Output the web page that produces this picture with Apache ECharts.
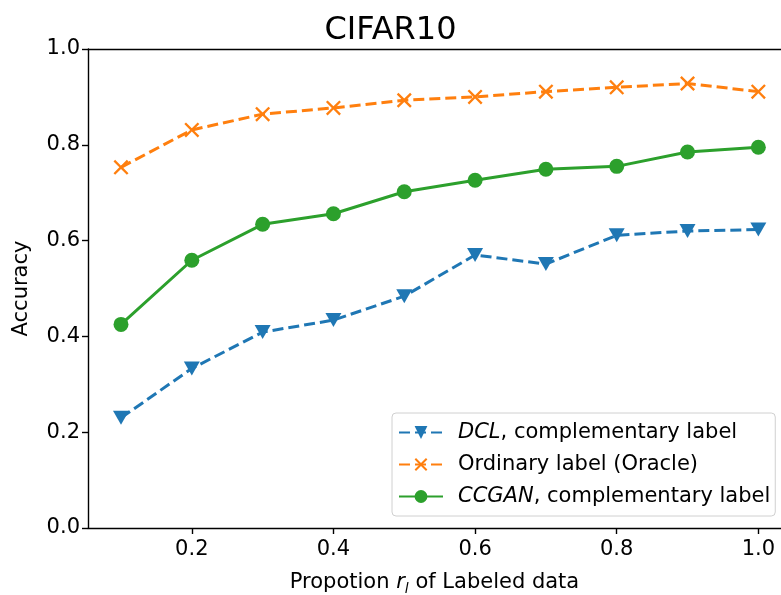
<!DOCTYPE html>
<html>
<head>
<meta charset="utf-8">
<script src="https://cdn.jsdelivr.net/npm/echarts@6/dist/echarts.min.js"></script>
<style>html,body{margin:0;padding:0;background:#fff}#c{width:781px;height:595px}</style>
</head>
<body>
<div id="c"></div>
<script>
const proportions = [0.1, 0.2, 0.3, 0.4, 0.5, 0.6, 0.7, 0.8, 0.9, 1.0];
const dclValues = [0.230, 0.333, 0.409, 0.434, 0.484, 0.570, 0.551, 0.611, 0.620, 0.623];
const oracleValues = [0.753, 0.831, 0.864, 0.877, 0.893, 0.900, 0.911, 0.920, 0.928, 0.911];
const ccganValues = [0.425, 0.559, 0.634, 0.656, 0.702, 0.726, 0.749, 0.755, 0.785, 0.795];
const xTickLabels = [0.2, 0.4, 0.6, 0.8, 1.0];
const seriesNames = ['DCL', 'Oracle', 'CCGAN'];

const font = 'DejaVu Sans';
const pairs = vals => proportions.map((x, i) => [x, vals[i]]);
const xMark = 'path://M0,1.1L1.1,0L5,3.9L8.9,0L10,1.1L6.1,5L10,8.9L8.9,10L5,6.1L1.1,10L0,8.9L3.9,5Z';
const xMin = 0.0534, xMax = 1.032;

const chart = echarts.init(document.getElementById('c'), null, {renderer: 'canvas'});
chart.setOption({
  animation: false,
  backgroundColor: '#ffffff',
  title: {
    text: 'CIFAR10', left: 'center', top: 10,
    textStyle: {fontFamily: font, fontSize: 32, fontWeight: 'normal', color: '#000'}
  },
  grid: {left: 88, top: 49, bottom: 67, right: 0, outerBoundsMode: 'none', containLabel: false},
  legend: {
    orient: 'vertical', left: 392, top: 413,
    padding: [9, 5, 9, 6], itemGap: 11, itemWidth: 44, itemHeight: 16,
    backgroundColor: '#fff', borderColor: '#d0d0d0', borderWidth: 1, borderRadius: 4,
    data: seriesNames,
    formatter: n => n === 'DCL' ? '{i|DCL}{n|, complementary label}'
      : n === 'Oracle' ? '{n|Ordinary label (Oracle)}' : '{i|CCGAN}{n|, complementary label}',
    textStyle: {
      fontFamily: font, fontSize: 21, color: '#000', padding: [0, 0, 0, 10],
      rich: {
        i: {fontFamily: font, fontSize: 21, fontStyle: 'italic', color: '#000'},
        n: {fontFamily: font, fontSize: 21, color: '#000'}
      }
    }
  },
  xAxis: [{
    type: 'value', min: xMin, max: xMax,
    name: 'Propotion {i|r}{s|l} of Labeled data', nameLocation: 'middle', nameGap: 42,
    nameTextStyle: {
      fontFamily: font, fontSize: 21, color: '#000',
      rich: {
        i: {fontFamily: font, fontSize: 21, fontStyle: 'italic', color: '#000'},
        s: {fontFamily: font, fontSize: 14, fontStyle: 'italic', color: '#000', verticalAlign: 'bottom', padding: [12, 0, 0, 0]}
      }
    },
    axisLine: {show: true, lineStyle: {color: '#000', width: 1.4}},
    axisTick: {show: true, inside: false, length: 6, customValues: xTickLabels, lineStyle: {color: '#000', width: 1.4}},
    axisLabel: {customValues: xTickLabels, margin: 11, fontFamily: font, fontSize: 21, color: '#000',
      formatter: v => v.toFixed(1)},
    splitLine: {show: false}
  }, {
    type: 'value', position: 'top', min: xMin, max: xMax,
    axisLine: {show: true, lineStyle: {color: '#000', width: 1.4}},
    axisTick: {show: false}, axisLabel: {show: false}, splitLine: {show: false}
  }],
  yAxis: {
    type: 'value', min: 0, max: 1, interval: 0.2,
    name: 'Accuracy', nameLocation: 'middle', nameGap: 56, nameRotate: 90,
    nameTextStyle: {fontFamily: font, fontSize: 21, color: '#000'},
    axisLine: {show: true, lineStyle: {color: '#000', width: 1.4}},
    axisTick: {show: true, length: 6, lineStyle: {color: '#000', width: 1.4}},
    axisLabel: {margin: 8, fontFamily: font, fontSize: 21, color: '#000', formatter: v => v.toFixed(1)},
    splitLine: {show: false}
  },
  series: [{
    name: 'DCL', type: 'line', data: pairs(dclValues),
    symbol: 'triangle', symbolRotate: 180, symbolSize: [16, 14],
    itemStyle: {color: '#1f77b4'},
    lineStyle: {color: '#1f77b4', width: 3, type: [11, 5]}
  }, {
    name: 'Oracle', type: 'line', data: pairs(oracleValues),
    symbol: xMark, symbolSize: 15,
    itemStyle: {color: '#ff7f0e'},
    lineStyle: {color: '#ff7f0e', width: 3, type: [11, 5]}
  }, {
    name: 'CCGAN', type: 'line', data: pairs(ccganValues),
    symbol: 'circle', symbolSize: 15,
    itemStyle: {color: '#2ca02c'},
    lineStyle: {color: '#2ca02c', width: 3}
  }]
});
</script>
</body>
</html>
